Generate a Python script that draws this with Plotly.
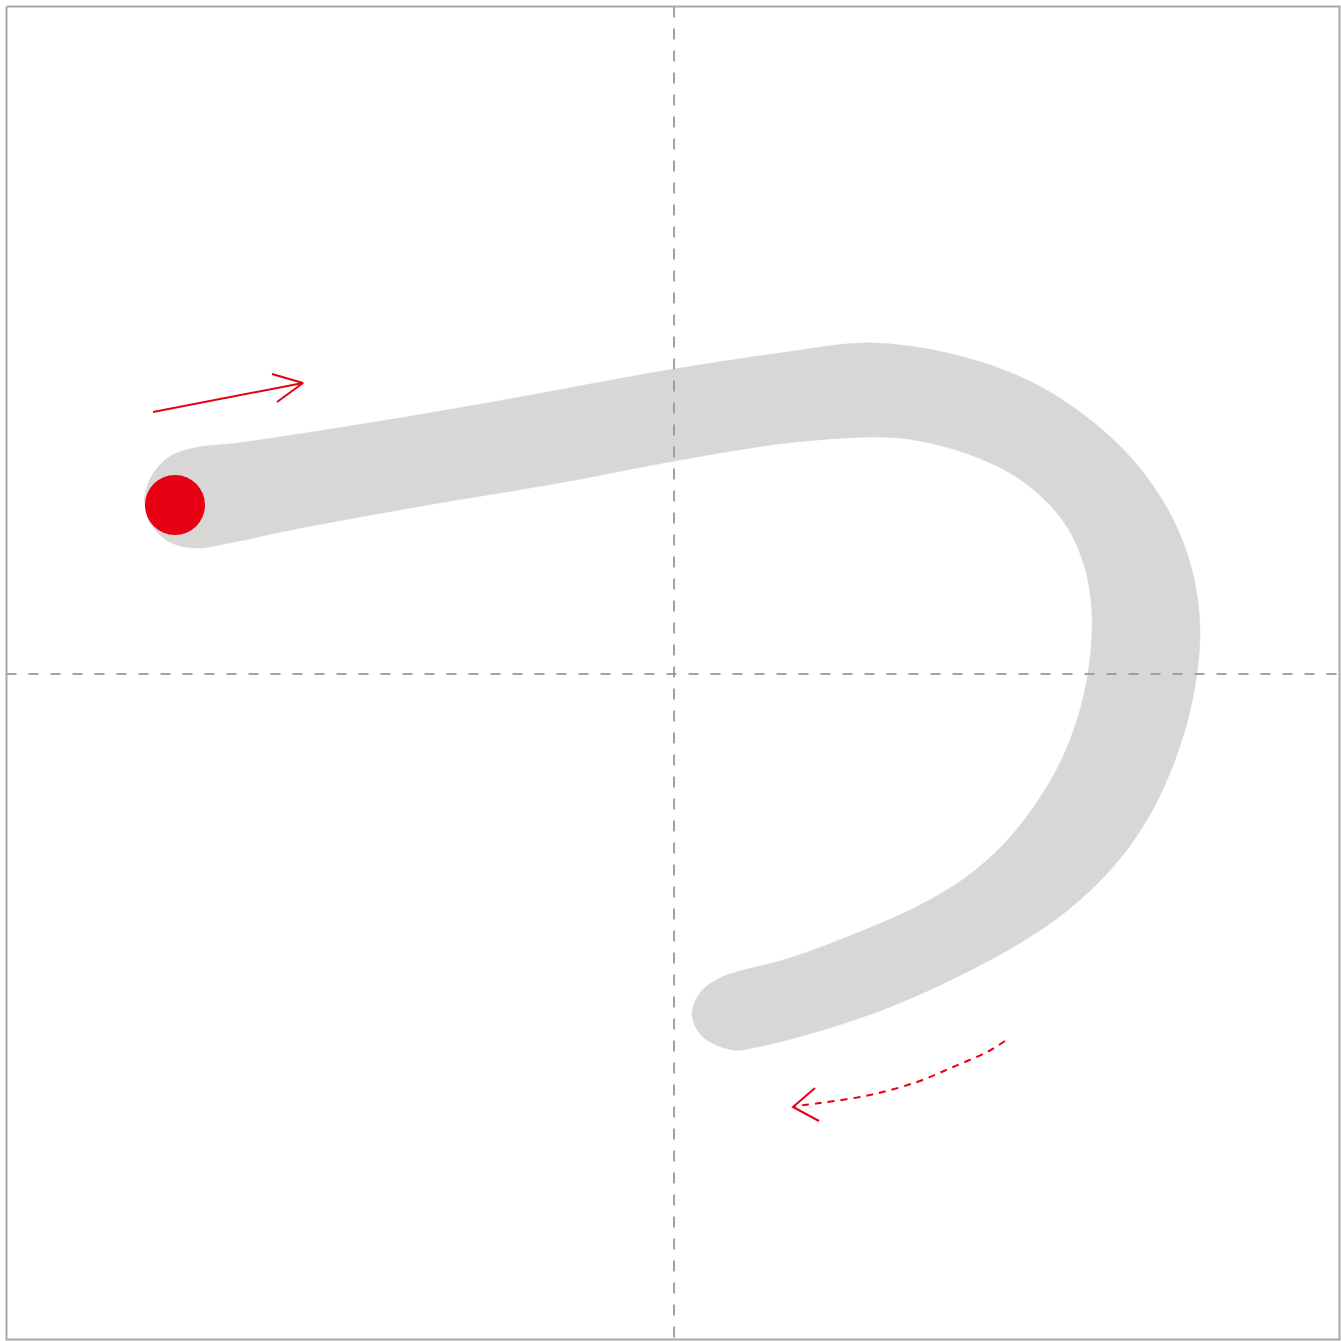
import plotly.graph_objects as go

# Canvas (pixel-like coordinate system, y grows downward)
CANVAS = 1341
FRAME = [6.5, 1339.5]
GUIDE_POS = 674

# Stroke outline of the character (clockwise)
stroke_x = [144, 151, 169, 194, 237, 344, 487, 612, 680, 780, 860, 900, 943, 993, 1043, 1093,
            1133, 1167, 1187, 1197, 1200, 1197, 1187, 1170, 1147, 1113, 1068, 1020, 957, 890,
            823, 757, 733, 703, 692, 700, 720, 790, 857, 920, 965, 1003, 1035, 1060, 1078, 1088,
            1092, 1091, 1084, 1069, 1045, 1010, 965, 920, 880, 787, 680, 559, 416, 291, 234,
            194, 166, 148]
stroke_y = [500, 477, 457, 448, 443, 427, 403, 380, 368, 353, 343, 345, 352, 366, 388, 422,
            460, 508, 553, 595, 633, 673, 723, 773, 820, 867, 910, 943, 977, 1007,
            1030, 1047, 1050, 1037, 1015, 993, 978, 958, 933, 905, 878, 845, 805, 763, 717, 673,
            633, 600, 565, 530, 500, 473, 453, 441, 437, 443, 460, 483, 507, 530, 542,
            548, 540, 520]

# Start point marker
start_x = [175]
start_y = [505]
start_radius = 30

# Direction arrow (solid)
arrow1_x = [153, 303]
arrow1_y = [412, 383]
arrow1_head_x = [272, 303, 277]
arrow1_head_y = [374, 383, 402]

# Direction arrow (dashed curve)
arrow2_x = [1005, 987, 953, 917, 870, 820, 795]
arrow2_y = [1041, 1052, 1067, 1082, 1095, 1103, 1106]
arrow2_head_x = [815, 793, 819]
arrow2_head_y = [1088, 1107, 1121]

RED = "#e60012"
GRAY_STROKE = "#d8d7d6"
GUIDE = "#9a9a9a"
FRAME_COLOR = "#a8a8a8"

fig = go.Figure()

# Stroke shape
fig.add_trace(go.Scatter(x=stroke_x, y=stroke_y, mode="lines", fill="toself",
                         fillcolor=GRAY_STROKE,
                         line=dict(color=GRAY_STROKE, width=0.5, shape="spline", smoothing=1.0),
                         hoverinfo="skip", showlegend=False))

# Guide lines (dashed) over the stroke
fig.add_trace(go.Scatter(x=[GUIDE_POS, GUIDE_POS], y=[FRAME[0], FRAME[1]], mode="lines",
                         line=dict(color=GUIDE, width=2, dash="11px,11px"), opacity=0.9,
                         hoverinfo="skip", showlegend=False))
fig.add_trace(go.Scatter(x=[FRAME[0], FRAME[1]], y=[GUIDE_POS, GUIDE_POS], mode="lines",
                         line=dict(color=GUIDE, width=2, dash="10px,12px"), opacity=0.9,
                         hoverinfo="skip", showlegend=False))

# Frame
fig.add_trace(go.Scatter(x=[FRAME[0], FRAME[1], FRAME[1], FRAME[0], FRAME[0]],
                         y=[FRAME[0], FRAME[0], FRAME[1], FRAME[1], FRAME[0]], mode="lines",
                         line=dict(color=FRAME_COLOR, width=2),
                         hoverinfo="skip", showlegend=False))

# Arrows
fig.add_trace(go.Scatter(x=arrow1_x, y=arrow1_y, mode="lines", line=dict(color=RED, width=2),
                         hoverinfo="skip", showlegend=False))
fig.add_trace(go.Scatter(x=arrow1_head_x, y=arrow1_head_y, mode="lines", line=dict(color=RED, width=2),
                         hoverinfo="skip", showlegend=False))
fig.add_trace(go.Scatter(x=arrow2_x, y=arrow2_y, mode="lines",
                         line=dict(color=RED, width=2, dash="7px,6px", shape="spline"),
                         hoverinfo="skip", showlegend=False))
fig.add_trace(go.Scatter(x=arrow2_head_x, y=arrow2_head_y, mode="lines", line=dict(color=RED, width=2),
                         hoverinfo="skip", showlegend=False))

# Start dot
fig.add_trace(go.Scatter(x=start_x, y=start_y, mode="markers",
                         marker=dict(color=RED, size=2 * start_radius, line=dict(width=0)),
                         hoverinfo="skip", showlegend=False))

fig.update_layout(
    width=CANVAS, height=CANVAS,
    margin=dict(l=0, r=0, t=0, b=0),
    paper_bgcolor="white", plot_bgcolor="white",
    xaxis=dict(range=[0, CANVAS], visible=False, fixedrange=True),
    yaxis=dict(range=[CANVAS, 0], visible=False, fixedrange=True),
)

fig.write_html("out.html", config={"displayModeBar": False},
               post_script="document.body.style.margin='0';document.body.style.overflow='hidden';")
